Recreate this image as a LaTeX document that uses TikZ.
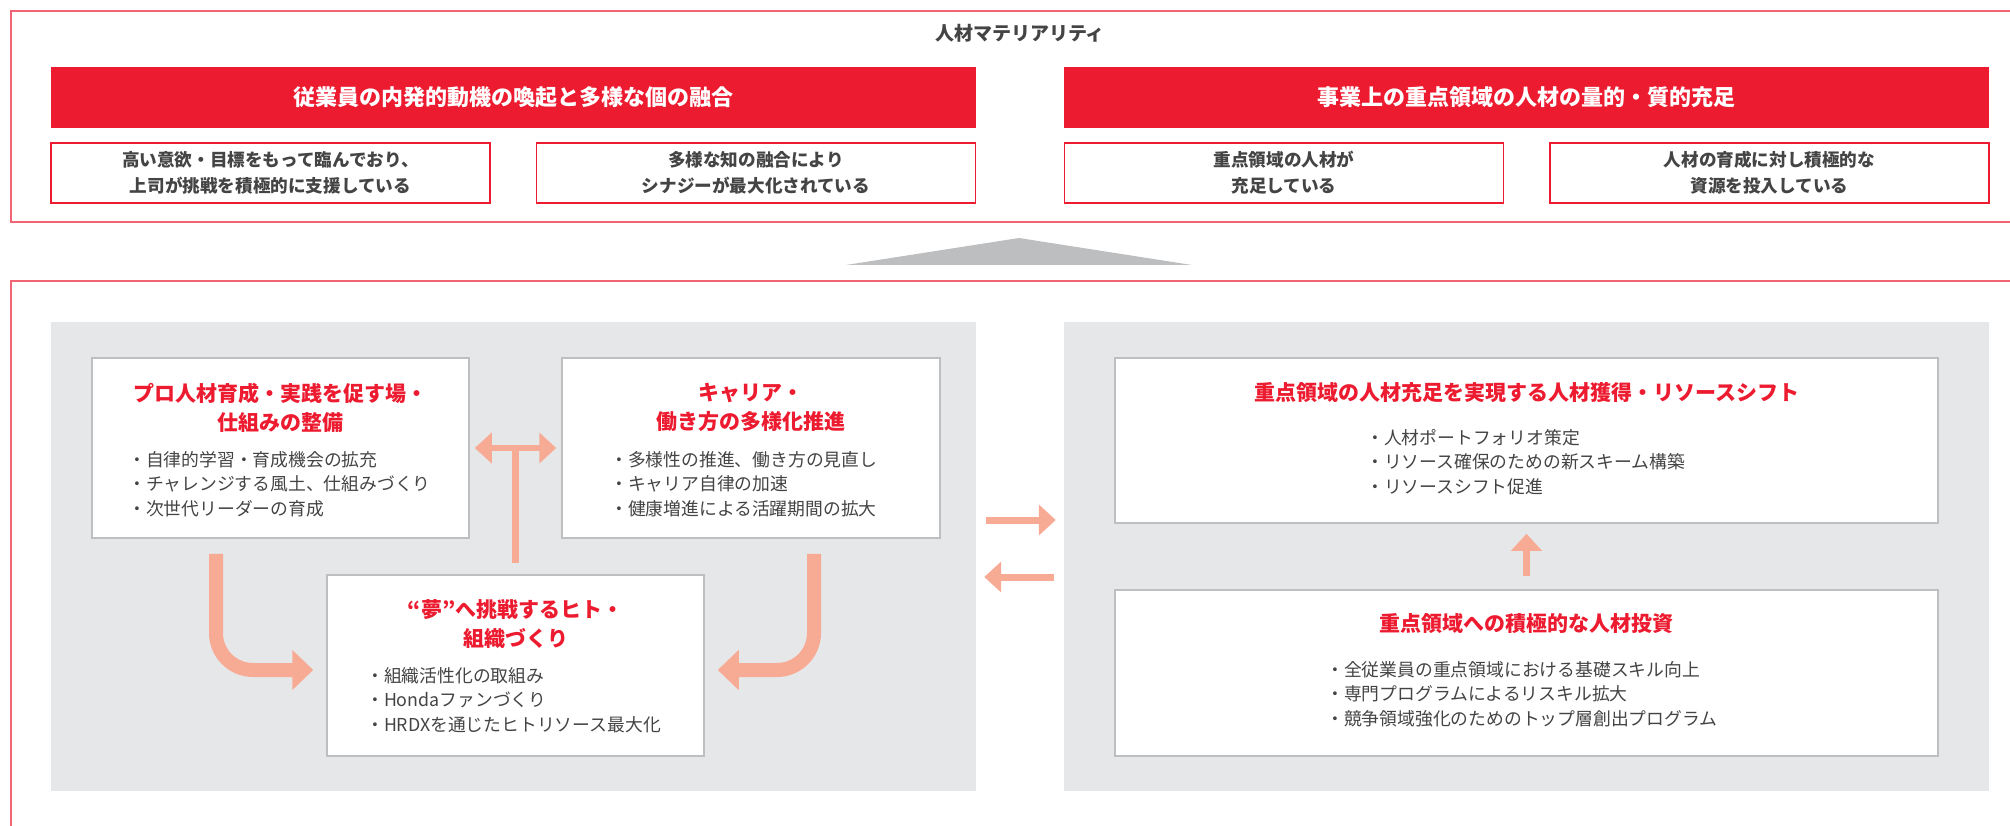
\documentclass[tikz,border=0pt]{standalone}
\usepackage{fontspec}
\setmainfont{Noto Sans CJK JP}
\usepackage{tikz}
\usetikzlibrary{arrows.meta,positioning,calc}
\definecolor{hred}{RGB}{237,27,47}
\definecolor{hframe}{RGB}{240,100,115}
\definecolor{hpanel}{RGB}{230,231,232}
\definecolor{hborder}{RGB}{190,191,193}
\definecolor{harrow}{RGB}{248,171,148}
\definecolor{htext}{RGB}{68,68,68}
\definecolor{htri}{RGB}{188,190,192}

\begin{document}
\begin{tikzpicture}[x=1pt,y=-1pt,
	banner/.style={fill=hred,text=white,font=\fontsize{22pt}{26pt}\selectfont\bfseries,
		minimum width=925pt,minimum height=61pt,inner sep=0pt},
	goalbox/.style={draw=hred,line width=1.3pt,fill=white,text=htext,align=center,
		font=\fontsize{17.6pt}{26pt}\selectfont\bfseries,minimum width=439pt,minimum height=60pt,inner sep=0pt},
	panel/.style={fill=hpanel,minimum width=925pt,minimum height=469pt,inner sep=0pt},
	card/.style={draw=hborder,line width=1.5pt,fill=white,inner sep=0pt},
	cardtitle/.style={text=hred,align=center,font=\fontsize{21pt}{29pt}\selectfont\bfseries,inner sep=0pt},
	bullets/.style={text=htext,align=left,anchor=west,font=\fontsize{17.8pt}{24.5pt}\selectfont,inner sep=0pt},
	flow/.style={harrow,line width=7pt,-{Triangle[length=17pt,width=30pt]}},
	bigflow/.style={harrow,line width=14pt,rounded corners=37pt,-{Triangle[length=21pt,width=39pt]}}]
	\useasboundingbox (0,0) rectangle (2010,826);
	\clip (0,0) rectangle (2010,826);
	% frames
	\draw[hframe,line width=1.5pt] (11,11) rectangle (2030,222);
	\draw[hframe,line width=1.5pt] (11,281) rectangle (2030,850);
	% materiality
	\node[text=htext,font=\fontsize{19pt}{19pt}\selectfont\bfseries] (materiality) at (1020,33) {人材マテリアリティ};
	\node[banner] (motive) at (513.5,97.5) {従業員の内発的動機の喚起と多様な個の融合};
	\node[banner] (focus) at (1526.5,97.5) {事業上の重点領域の人材の量的・質的充足};
	\node[goalbox] (goal1) at (270.5,173) {高い意欲・目標をもって臨んでおり、\\上司が挑戦を積極的に支援している};
	\node[goalbox] (goal2) at (756,173) {多様な知の融合により\\シナジーが最大化されている};
	\node[goalbox] (goal3) at (1284,173) {重点領域の人材が\\充足している};
	\node[goalbox] (goal4) at (1769.5,173) {人材の育成に対し積極的な\\資源を投入している};
	\fill[htri] (846,265) -- (1019,238) -- (1192,265) -- cycle;
	% strategy panels
	\node[panel] (lpanel) at (513.5,556.5) {};
	\node[panel] (rpanel) at (1526.5,556.5) {};
	\node[card,minimum width=377pt,minimum height=180pt] (pro) at (280.5,448) {};
	\node[card,minimum width=378pt,minimum height=180pt] (career) at (751,448) {};
	\node[card,minimum width=377pt,minimum height=181pt] (dream) at (515.5,665.5) {};
	\node[card,minimum width=823pt,minimum height=165pt] (acquire) at (1526.5,440.5) {};
	\node[card,minimum width=823pt,minimum height=166pt] (invest) at (1526.5,673) {};
	\node[cardtitle] (protitle) at (280.5,407.5) {プロ人材育成・実践を促す場・\\仕組みの整備};
	\node[cardtitle] (careertitle) at (751,407) {キャリア・\\働き方の多様化推進};
	\node[cardtitle] (dreamtitle) at (515.5,624) {“夢”へ挑戦するヒト・\\組織づくり};
	\node[cardtitle] (acquiretitle) at (1526.5,393) {重点領域の人材充足を実現する人材獲得・リソースシフト};
	\node[cardtitle] (investtitle) at (1526.5,624) {重点領域への積極的な人材投資};
	\node[bullets] (prolist) at (128,484) {・自律的学習・育成機会の拡充\\・チャレンジする風土、仕組みづくり\\・次世代リーダーの育成};
	\node[bullets] (careerlist) at (610,484) {・多様性の推進、働き方の見直し\\・キャリア自律の加速\\・健康増進による活躍期間の拡大};
	\node[bullets] (dreamlist) at (366,700) {・組織活性化の取組み\\・Hondaファンづくり\\・HRDXを通じたヒトリソース最大化};
	\node[bullets] (acquirelist) at (1366,462) {・人材ポートフォリオ策定\\・リソース確保のための新スキーム構築\\・リソースシフト促進};
	\node[bullets] (investlist) at (1326,694) {・全従業員の重点領域における基礎スキル向上\\・専門プログラムによるリスキル拡大\\・競争領域強化のためのトップ層創出プログラム};
	% arrows
	\coordinate (join) at ($(pro.east)!0.5!(career.west)$);
	\draw[flow,line width=6pt,{Triangle[length=17pt,width=30pt]}-{Triangle[length=17pt,width=30pt]},
	shorten <=5pt,shorten >=5pt] (pro.east) -- (career.west);
	\draw[harrow,line width=7pt,shorten <=11pt] (dream.north) -- (join);
	\draw[bigflow] ([xshift=-64.5pt,yshift=-15pt]pro.south) |- ([xshift=-13pt,yshift=-4.5pt]dream.west);
	\draw[bigflow] ([xshift=63pt,yshift=-15pt]career.south) |- ([xshift=13pt,yshift=-4.5pt]dream.east);
	\draw[flow] ([xshift=10pt,yshift=36.5pt]lpanel.east) -- ([xshift=-8pt,yshift=36.5pt]rpanel.west);
	\draw[flow] ([xshift=-10pt,yshift=-20.5pt]rpanel.west) -- ([xshift=8pt,yshift=-20.5pt]lpanel.east);
	\draw[flow] ([yshift=13pt]invest.north) -- ([yshift=-10pt]acquire.south);
\end{tikzpicture}
\end{document}
